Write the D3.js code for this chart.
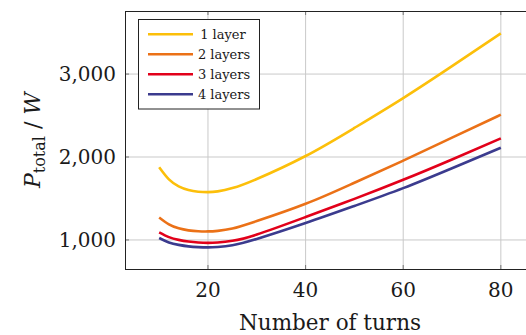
<!DOCTYPE html>
<html>
<head>
<meta charset="utf-8">
<script src="https://cdn.jsdelivr.net/npm/d3@7"></script>
<style>
  html, body { margin: 0; padding: 0; background: #fff; }
  svg { display: block; }
  text { font-family: "DejaVu Serif", serif; fill: #1a1a1a; }
</style>
</head>
<body>
<svg id="chart" width="526" height="335"></svg>
<script>
// ---- data ----
const turns   = [10, 12, 14, 16, 18, 20, 22, 25, 30, 40, 50, 60, 70, 80];
const layer1  = [1876, 1730, 1646, 1602, 1582, 1577, 1586, 1625, 1735, 2012, 2350, 2710, 3095, 3490];
const layer2  = [1271, 1188, 1140, 1116, 1105, 1103, 1110, 1138, 1228, 1436, 1690, 1956, 2233, 2510];
const layer3  = [1091, 1034, 1001, 981, 969, 965, 970, 990, 1065, 1276, 1495, 1725, 1970, 2224];
const layer4  = [1024, 970, 941, 923, 914, 911, 916, 936, 1012, 1204, 1410, 1625, 1865, 2112];
const seriesNames = ["1 layer", "2 layers", "3 layers", "4 layers"];
const seriesColors = ["#fcbf0a", "#eb7117", "#e2001a", "#3b3b8e"];
const xTicks = [20, 40, 60, 80];
const yTicks = [1000, 2000, 3000];

const allSeries = [layer1, layer2, layer3, layer4];

// ---- layout ----
const svg = d3.select("#chart");
const L = 125, T = 11, R = 535, B = 269;

const x = d3.scaleLinear().domain([3, 87]).range([L, R]);
const y = d3.scaleLinear().domain([650, 3760]).range([B, T]);

const g = svg.append("g");

// grid
g.append("g").selectAll("line").data(xTicks).join("line")
  .attr("x1", d => x(d)).attr("x2", d => x(d))
  .attr("y1", T).attr("y2", B)
  .attr("stroke", "#c9c9c9").attr("stroke-width", 1);
g.append("g").selectAll("line").data(yTicks).join("line")
  .attr("x1", L).attr("x2", R)
  .attr("y1", d => y(d)).attr("y2", d => y(d))
  .attr("stroke", "#c9c9c9").attr("stroke-width", 1);

// inner tick marks
const tk = 4;
g.append("g").selectAll("line").data(xTicks).join("line")
  .attr("x1", d => x(d)).attr("x2", d => x(d))
  .attr("y1", B).attr("y2", B - tk).attr("stroke", "#777").attr("stroke-width", 1);
g.append("g").selectAll("line").data(xTicks).join("line")
  .attr("x1", d => x(d)).attr("x2", d => x(d))
  .attr("y1", T).attr("y2", T + tk).attr("stroke", "#777").attr("stroke-width", 1);
g.append("g").selectAll("line").data(yTicks).join("line")
  .attr("x1", L).attr("x2", L + tk)
  .attr("y1", d => y(d)).attr("y2", d => y(d)).attr("stroke", "#777").attr("stroke-width", 1);
g.append("g").selectAll("line").data(yTicks).join("line")
  .attr("x1", R - tk).attr("x2", R)
  .attr("y1", d => y(d)).attr("y2", d => y(d)).attr("stroke", "#777").attr("stroke-width", 1);

// series lines
const line = d3.line()
  .x((d, i) => x(turns[i]))
  .y(d => y(d))
  .curve(d3.curveNatural);

g.append("g").selectAll("path").data(allSeries).join("path")
  .attr("d", d => line(d))
  .attr("fill", "none")
  .attr("stroke", (d, i) => seriesColors[i])
  .attr("stroke-width", 2.6)
  .attr("stroke-linejoin", "round");

// frame
g.append("rect")
  .attr("x", L + 0.5).attr("y", T + 0.5)
  .attr("width", R - L).attr("height", B - T)
  .attr("fill", "none").attr("stroke", "#222").attr("stroke-width", 1);

// tick labels
const fmt = d3.format(",");
g.append("g").selectAll("text").data(yTicks).join("text")
  .attr("x", 116).attr("y", d => y(d))
  .attr("dy", "0.36em")
  .attr("text-anchor", "end")
  .attr("font-size", 20)
  .text(d => fmt(d));
g.append("g").selectAll("text").data(xTicks).join("text")
  .attr("x", d => x(d)).attr("y", 297)
  .attr("text-anchor", "middle")
  .attr("font-size", 20)
  .text(d => d);

// axis labels
svg.append("text")
  .attr("x", 330).attr("y", 330)
  .attr("text-anchor", "middle")
  .attr("font-size", 21.5)
  .text("Number of turns");

const yl = svg.append("text")
  .attr("transform", "translate(40,140) rotate(-90)")
  .attr("text-anchor", "middle")
  .attr("font-size", 22);
yl.append("tspan").attr("font-style", "italic").text("P");
yl.append("tspan").attr("font-size", 16).attr("dy", 5).text("total");
yl.append("tspan").attr("dy", -5).text(" / ");
yl.append("tspan").attr("font-style", "italic").text("W");

// legend
const lg = svg.append("g");
lg.append("rect")
  .attr("x", 138.5).attr("y", 19.5).attr("width", 121).attr("height", 89.5)
  .attr("fill", "#fff").attr("stroke", "#222").attr("stroke-width", 1);
const rows = lg.selectAll("g.row").data(seriesNames).join("g")
  .attr("class", "row")
  .attr("transform", (d, i) => `translate(0,${34.3 + i * 20})`);
rows.append("line")
  .attr("x1", 148).attr("x2", 193).attr("y1", 0).attr("y2", 0)
  .attr("stroke", (d, i) => seriesColors[i]).attr("stroke-width", 2.6);
rows.append("text")
  .attr("x", (d, i) => i === 0 ? 223 : 224).attr("y", 0).attr("dy", "0.35em")
  .attr("text-anchor", "middle")
  .attr("font-size", 13)
  .text(d => d);
</script>
</body>
</html>
